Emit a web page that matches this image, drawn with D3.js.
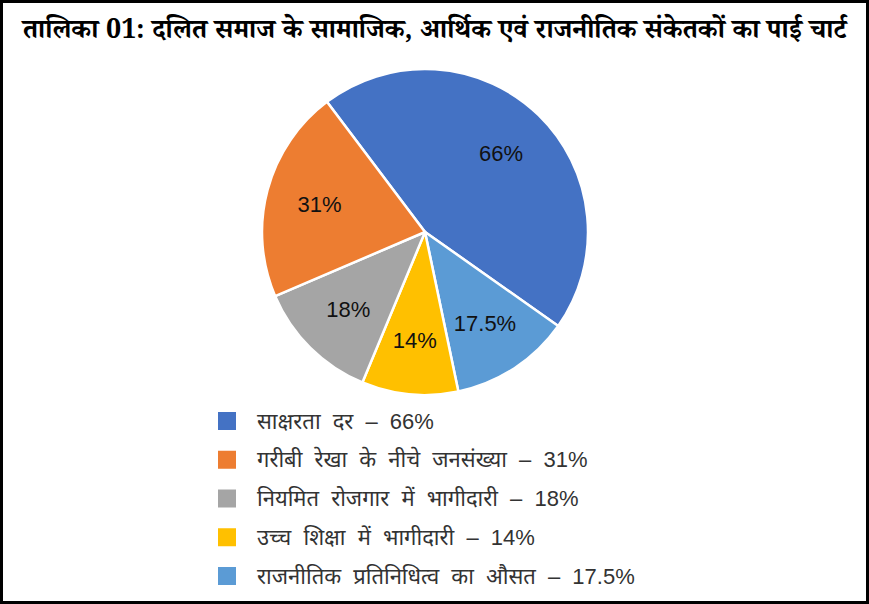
<!DOCTYPE html>
<html>
<head>
<meta charset="utf-8">
<script src="https://cdn.jsdelivr.net/npm/d3@7"></script>
<style>
  html, body { margin: 0; padding: 0; background: #fff; }
  svg { display: block; }
</style>
</head>
<body>
<svg id="chart" width="869" height="604"></svg>
<script>
const title = "तालिका 01: दलित समाज के सामाजिक, आर्थिक एवं राजनीतिक संकेतकों का पाई चार्ट";
const categories = [
  "साक्षरता दर",
  "गरीबी रेखा के नीचे जनसंख्या",
  "नियमित रोजगार में भागीदारी",
  "उच्च शिक्षा में भागीदारी",
  "राजनीतिक प्रतिनिधित्व का औसत"
];
const values = [66, 31, 18, 14, 17.5];
const valueLabels = ["66%", "31%", "18%", "14%", "17.5%"];
const colors = ["#4472C4", "#ED7D31", "#A5A5A5", "#FFC000", "#5B9BD5"];
// clockwise drawing order on the pie
const sliceOrder = [0, 4, 3, 2, 1];

const width = 869, height = 604;
const cx = 425, cy = 232, radius = 163;

const svg = d3.select("#chart");

svg.append("rect")
  .attr("x", 1.5).attr("y", 1.5)
  .attr("width", width - 3).attr("height", height - 3)
  .attr("fill", "#fff")
  .attr("stroke", "#000")
  .attr("stroke-width", 3);

const titleText = svg.append("text")
  .attr("x", width / 2)
  .attr("y", 38)
  .attr("text-anchor", "middle")
  .style("font-family", "'Noto Serif Devanagari', 'Noto Sans Devanagari', 'Noto Sans', sans-serif")
  .style("font-weight", "bold")
  .style("font-size", "26px")
  .attr("fill", "#000")
  .text(title);

// fit title to the frame width
const tw = titleText.node().getComputedTextLength();
titleText.style("font-size", Math.min(28, 26 * 824 / tw) + "px");

const pieData = sliceOrder.map(i => ({ i, value: values[i] }));

const pie = d3.pie()
  .sort(null)
  .value(d => d.value)
  .startAngle(-37 * Math.PI / 180)
  .endAngle(323 * Math.PI / 180);

const arcs = pie(pieData);

const arc = d3.arc().innerRadius(0).outerRadius(radius);
const labelArc = d3.arc().innerRadius(radius * 0.67).outerRadius(radius * 0.67);

const g = svg.append("g").attr("transform", `translate(${cx},${cy})`);

g.selectAll("path.slice")
  .data(arcs)
  .join("path")
  .attr("class", "slice")
  .attr("d", arc)
  .attr("fill", d => colors[d.data.i])
  .attr("stroke", "#fff")
  .attr("stroke-width", 2.5)
  .attr("stroke-linejoin", "round");

g.selectAll("text.val")
  .data(arcs)
  .join("text")
  .attr("class", "val")
  .attr("transform", d => `translate(${labelArc.centroid(d)})`)
  .attr("text-anchor", "middle")
  .attr("dy", "0.35em")
  .style("font-family", "'Liberation Sans', Arial, sans-serif")
  .style("font-size", "22px")
  .attr("fill", "#111")
  .text(d => valueLabels[d.data.i]);

// legend
const legendY = d3.scalePoint()
  .domain(d3.range(categories.length))
  .range([421, 576]);

const legend = svg.append("g");

const rows = legend.selectAll("g")
  .data(categories)
  .join("g")
  .attr("transform", (d, i) => `translate(0,${legendY(i)})`);

rows.append("rect")
  .attr("x", 218)
  .attr("y", -9)
  .attr("width", 18)
  .attr("height", 18)
  .attr("fill", (d, i) => colors[i]);

rows.append("text")
  .attr("x", 257)
  .attr("dy", "0.35em")
  .style("font-family", "'Liberation Sans', 'Noto Sans Devanagari', 'Noto Sans', sans-serif")
  .style("font-size", "22px")
  .style("word-spacing", "6px")
  .attr("fill", "#333")
  .text((d, i) => `${d} – ${valueLabels[i]}`);
</script>
</body>
</html>
